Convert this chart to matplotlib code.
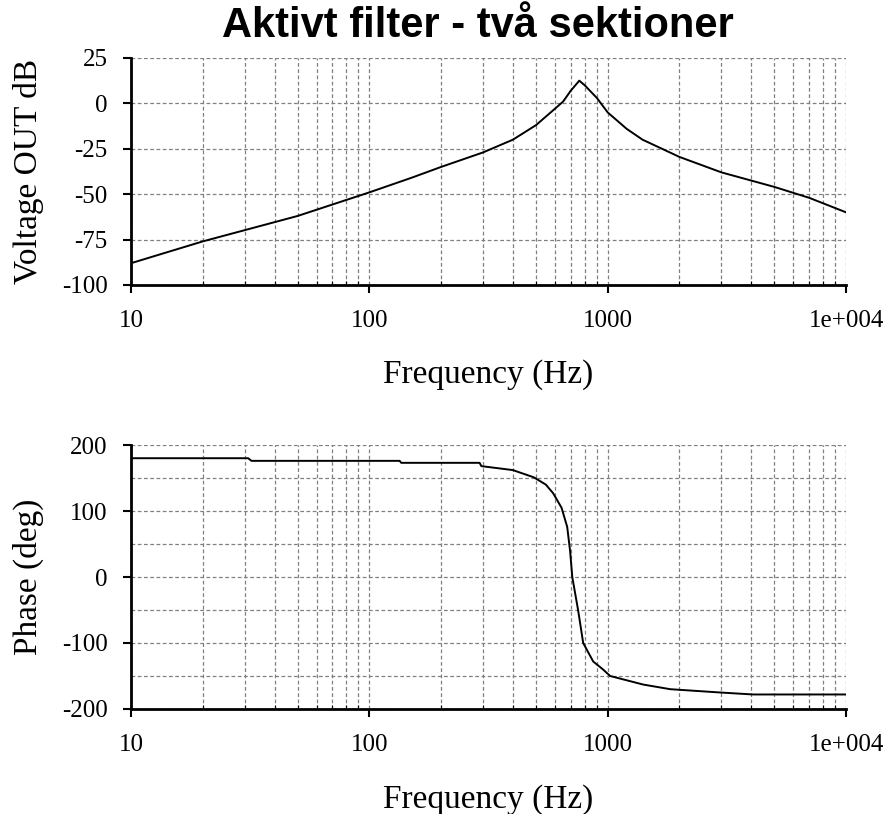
import numpy as np
import matplotlib
matplotlib.use("Agg")
import matplotlib.pyplot as plt
from matplotlib.ticker import FixedLocator, LogLocator, NullFormatter

# Data
freq_mag = [10, 20, 50, 100, 150, 200, 300, 400, 500, 600, 650, 700, 760,
            800, 900, 1000, 1200, 1400, 2000, 3000, 5000, 7000, 10000]
mag_db = [-88, -76, -62, -49, -41, -35, -27, -20, -12, -3, 1, 7, 12.5,
          10, 3, -5, -14, -20, -29.5, -38, -46, -52, -60]

freq_ph = [10, 31, 32, 134, 136, 290, 295, 400, 490, 550, 590, 640, 676,
           695, 710, 751, 789, 869, 955, 1024, 1410, 1830, 2964, 4074, 10000]
phase_deg = [180, 180, 176, 176, 173, 173, 168, 162, 151, 140, 127, 105, 76,
             40, 0, -50, -100, -128, -140, -150, -163, -170, -175, -178, -178]

x_ticks = [10, 100, 1000, 10000]
x_labels = ["10", "100", "1000", "1e+004"]
mag_ticks = [25, 0, -25, -50, -75, -100]
ph_ticks = [200, 100, 0, -100, -200]

serif = "Liberation Serif"

fig = plt.figure(figsize=(8.89, 8.14), dpi=100)
ax1 = fig.add_axes([0.1474, 0.6499, 0.8043, 0.2789])
ax2 = fig.add_axes([0.1474, 0.1290, 0.8043, 0.3243])

def style(ax, yticks, ygrid, xlab_y):
    ax.set_xscale("log")
    ax.set_xlim(10, 10000)
    ax.set_xticks(x_ticks)
    ax.set_xticklabels(x_labels, family=serif, fontsize=18)
    ax.xaxis.set_minor_locator(LogLocator(base=10, subs=np.arange(2, 10)))
    ax.xaxis.set_minor_formatter(NullFormatter())
    ax.set_yticks(yticks)
    ax.set_yticklabels([str(t) for t in yticks], family=serif, fontsize=18)
    ax.yaxis.set_minor_locator(FixedLocator(ygrid))
    ax.set_ylim(min(yticks), max(yticks))
    ax.grid(True, which="both", color="#808080", linestyle=(0, (3, 2)), linewidth=0.9)
    ax.spines["top"].set_visible(False)
    ax.spines["right"].set_visible(False)
    ax.spines["left"].set_linewidth(2)
    ax.spines["bottom"].set_linewidth(2)
    ax.tick_params(axis="x", which="major", direction="out", length=6, width=1.5, pad=12)
    ax.tick_params(axis="x", which="minor", direction="in", length=3, width=0.8)
    ax.tick_params(axis="y", which="major", direction="out", length=6, width=1.5, pad=11)
    ax.tick_params(axis="y", which="minor", length=0)
    ax.set_xlabel("Frequency (Hz)", family=serif, fontsize=24)
    ax.xaxis.label.set_va("center")
    ax.xaxis.set_label_coords(0.5, xlab_y)

ax1.plot(freq_mag, mag_db, color="black", linewidth=1.4)
style(ax1, mag_ticks, [25, 0, -25, -50, -75], -0.396)
ax1.set_ylabel("Voltage OUT dB", family=serif, fontsize=24)

ax2.plot(freq_ph, phase_deg, color="black", linewidth=1.4)
style(ax2, ph_ticks, [150, 50, -50, -150, 200, 100, 0, -100], -0.345)
ax2.set_ylabel("Phase (deg)", family=serif, fontsize=24)

for ax in (ax1, ax2):
    ax.yaxis.label.set_va("center")
    ax.yaxis.set_label_coords(-0.144, 0.5)

fig.text(0.538, 1 - 37 / 814, "Aktivt filter - två sektioner", ha="center", va="baseline",
         family="Liberation Sans", fontsize=30, fontweight="bold")

plt.savefig("out.png", dpi=100)
